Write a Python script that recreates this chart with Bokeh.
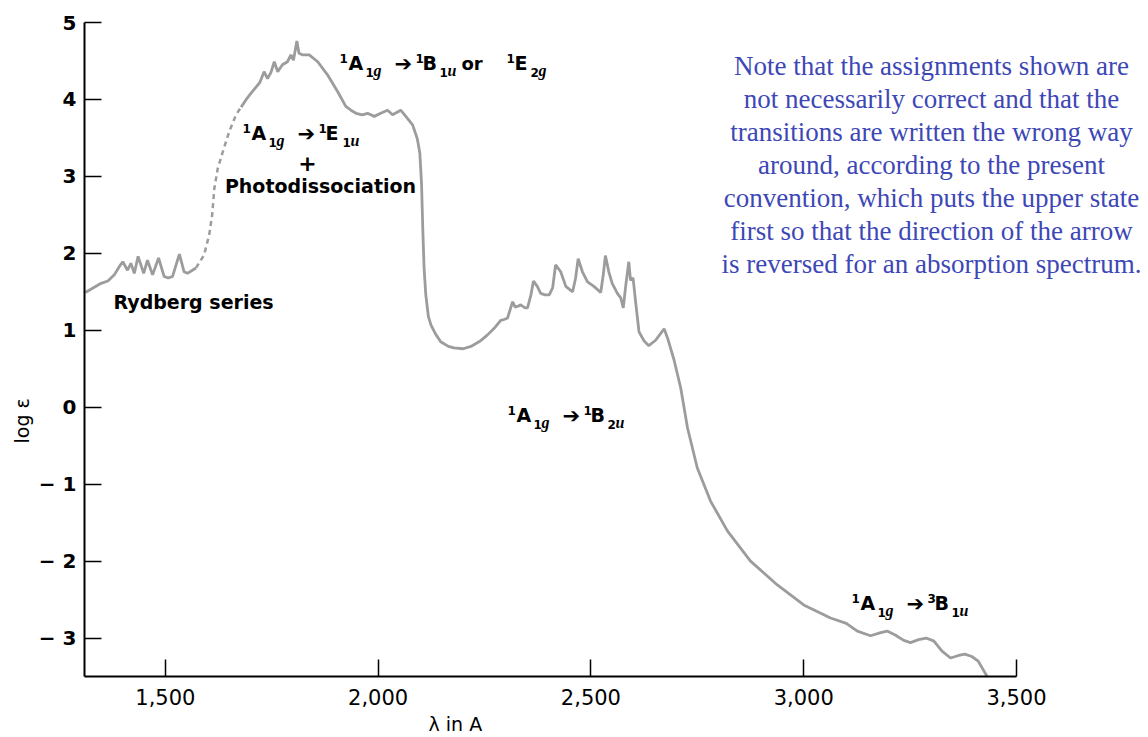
import math
from bokeh.plotting import figure
from bokeh.models import Range1d, FixedTicker, NumeralTickFormatter, Label, Title
from bokeh.embed import file_html
from bokeh.resources import INLINE

# ---------------- data ----------------
# Rydberg series region (solid)
rydberg_wavelength = [1312, 1349, 1365, 1380, 1392, 1400, 1411, 1419, 1427, 1436, 1449,
                      1458, 1470, 1484, 1497, 1507, 1517, 1533, 1544, 1552, 1572]
rydberg_log_eps = [1.49, 1.61, 1.64, 1.72, 1.83, 1.89, 1.78, 1.87, 1.74, 1.96, 1.74,
                   1.91, 1.72, 1.94, 1.70, 1.68, 1.70, 1.99, 1.76, 1.74, 1.81]

# uncertain (dashed) rise
dashed_wavelength = [1572, 1591, 1603, 1610, 1615, 1623, 1635, 1650, 1666, 1678]
dashed_log_eps = [1.81, 1.98, 2.24, 2.50, 2.84, 3.10, 3.32, 3.58, 3.80, 3.90]

# main band and tail (solid)
band_wavelength = [1678, 1690, 1701, 1713, 1722, 1732, 1740, 1748, 1756, 1764, 1775,
                   1787, 1795, 1801, 1809, 1814, 1822, 1838, 1858, 1881, 1905, 1924,
                   1936, 1948, 1963, 1975, 1991, 2006, 2022, 2034, 2053, 2065, 2081,
                   2092, 2098, 2102, 2105, 2108, 2112, 2118, 2124, 2135, 2147, 2165,
                   2178, 2200, 2218, 2240, 2257, 2275, 2288, 2296, 2304, 2316, 2322,
                   2327, 2335, 2345, 2351, 2359, 2365, 2374, 2382, 2392, 2402, 2410,
                   2417, 2429, 2441, 2457, 2464, 2470, 2480, 2492, 2507, 2523, 2529,
                   2534, 2542, 2550, 2562, 2570, 2576, 2582, 2589, 2593, 2599, 2605,
                   2613, 2625, 2636, 2652, 2664, 2672, 2680, 2695, 2711, 2727, 2750,
                   2781, 2821, 2875, 2938, 3000, 3063, 3100, 3126, 3157, 3181, 3196,
                   3215, 3235, 3251, 3270, 3288, 3306, 3325, 3345, 3362, 3378, 3395,
                   3410, 3431]
band_log_eps = [3.90, 4.00, 4.08, 4.16, 4.22, 4.36, 4.27, 4.35, 4.49, 4.36, 4.45,
                4.49, 4.58, 4.51, 4.76, 4.60, 4.58, 4.58, 4.49, 4.32, 4.10, 3.91,
                3.86, 3.82, 3.80, 3.82, 3.78, 3.82, 3.86, 3.80, 3.86, 3.78, 3.67,
                3.49, 3.30, 2.90, 2.30, 1.80, 1.46, 1.18, 1.07, 0.95, 0.85, 0.79,
                0.77, 0.76, 0.79, 0.86, 0.94, 1.04, 1.13, 1.14, 1.16, 1.37, 1.30,
                1.31, 1.33, 1.29, 1.29, 1.46, 1.64, 1.57, 1.48, 1.46, 1.46, 1.55,
                1.85, 1.76, 1.57, 1.50, 1.68, 1.93, 1.76, 1.63, 1.57, 1.49, 1.72,
                1.97, 1.76, 1.61, 1.48, 1.42, 1.29, 1.59, 1.89, 1.65, 1.68, 1.37,
                0.98, 0.86, 0.80, 0.87, 0.96, 1.02, 0.90, 0.62, 0.25, -0.27, -0.79,
                -1.22, -1.61, -2.00, -2.31, -2.57, -2.74, -2.81, -2.91, -2.97, -2.93, -2.91,
                -2.96, -3.03, -3.06, -3.02, -3.00, -3.04, -3.17, -3.26, -3.23, -3.21, -3.24,
                -3.30, -3.50]

x_ticks = [1500, 2000, 2500, 3000, 3500]
y_ticks = [-3, -2, -1, 0, 1, 2, 3, 4, 5]
y_tick_labels = {-3: "\u2212 3", -2: "\u2212 2", -1: "\u2212 1"}

note_lines = [
    "Note that the assignments shown are",
    "not necessarily correct and that the",
    "transitions are written the wrong way",
    "around, according to the present",
    "convention, which puts the upper state",
    "first so that the direction of the arrow",
    "is reversed for an absorption spectrum.",
]

# ---------------- figure ----------------
X0, XAX, Y0, Y1 = 1310, 3500, -3.5, 5
LEFT, TOP = 84, 22
SX = 932 / (XAX - X0)          # px per Angstrom
FH = 654
SY = FH / (Y1 - Y0)            # px per log unit
FW = 1058                      # frame reaches the right edge (room for the note)
X1 = X0 + FW / SX

p = figure(frame_width=FW, frame_height=FH,
           x_range=Range1d(X0, X1), y_range=Range1d(Y0, Y1),
           output_backend="svg", toolbar_location=None,
           min_border_left=LEFT, min_border_right=4,
           min_border_top=TOP, min_border_bottom=61)
p.outline_line_color = None
p.grid.visible = False
p.background_fill_color = "white"
p.border_fill_color = "white"

xa = p.xaxis[0]
xa.bounds = (X0, XAX)
xa.ticker = FixedTicker(ticks=x_ticks)
xa.formatter = NumeralTickFormatter(format="0,0")
xa.major_tick_in = 17
xa.major_tick_out = 0
xa.minor_tick_in = 0
xa.minor_tick_out = 0
xa.axis_line_width = 2
xa.major_tick_line_width = 1.5
xa.major_label_text_font = "DejaVu Sans"
xa.major_label_text_font_size = "21px"
xa.major_label_text_color = "black"
xa.major_label_standoff = 12

ya = p.yaxis[0]
ya.ticker = FixedTicker(ticks=y_ticks)
ya.major_label_overrides = y_tick_labels
ya.major_tick_in = 17
ya.major_tick_out = 0
ya.minor_tick_in = 0
ya.minor_tick_out = 0
ya.axis_line_width = 2
ya.major_tick_line_width = 1.5
ya.major_label_text_font = "DejaVu Sans"
ya.major_label_text_font_style = "bold"
ya.major_label_text_font_size = "20px"
ya.major_label_text_color = "black"
ya.major_label_standoff = 8

# axis titles as side-panel titles (not clipped by the frame)
p.add_layout(Title(text="\u03bb in A", align="left", offset=344, standoff=6,
                   text_font="DejaVu Sans", text_font_style="normal",
                   text_font_size="19px", text_color="black"), "below")
p.add_layout(Title(text="log \u03b5", align="left", offset=233, standoff=6,
                   text_font="DejaVu Sans", text_font_style="normal",
                   text_font_size="19px", text_color="black"), "left")

CURVE = "#9c9c9c"
p.line(rydberg_wavelength, rydberg_log_eps, line_color=CURVE, line_width=2.8)
p.line(dashed_wavelength, dashed_log_eps, line_color=CURVE, line_width=2.5, line_dash="5 4")
p.line(band_wavelength, band_log_eps, line_color=CURVE, line_width=2.8)


# ---------------- text ----------------
def at(px, py):
    """page pixel -> data coordinates"""
    return X0 + (px - LEFT) / SX, Y1 - (py - TOP) / SY


def txt(text, px, py, size, font="DejaVu Sans", style="bold", color="black",
        align="left", lift=None):
    # py is the wanted baseline; the label is anchored a little higher
    if lift is None:
        lift = 0.37 * size
    x, y = at(px, py - lift)
    p.add_layout(Label(x=x, y=y, text=text, text_font=font, text_font_style=style,
                       text_font_size=f"{size}px", text_color=color,
                       text_align=align, text_baseline="alphabetic"))


def pieces(items):
    for kind, s, px, py in items:
        if kind == "main":
            txt(s, px, py, 19)
        elif kind == "num":
            txt(s, px, py, 12)
        elif kind == "ital":
            txt(s, px, py, 16, font="Liberation Serif", style="bold italic")
        elif kind == "arrow":
            txt(s, px, py, 21)


def transition(upper, upper_sub, x0, base):
    return [
        ("num", "1", x0 - 9, base - 8), ("main", "A", x0, base),
        ("num", "1", x0 + 17, base + 6), ("ital", "g", x0 + 25, base + 6),
        ("arrow", "\u2794", x0 + 46, base + 1),
        ("num", upper[0], x0 + 67, base - 8), ("main", upper[1], x0 + 74, base),
        ("num", upper_sub[0], x0 + 91, base + 6), ("ital", upper_sub[1], x0 + 99, base + 6),
    ]


# 1A1g -> 1B1u or 1E2g
pieces(transition("1B", "1u", 348, 70))
txt("or", 461, 70, 18)
pieces([("num", "1", 506, 62), ("main", "E", 514, 70),
        ("num", "2", 530, 76), ("ital", "g", 538, 76)])

# 1A1g -> 1E1u + Photodissociation
pieces(transition("1E", "1u", 251, 140))
txt("+", 307, 171, 22, align="center")
txt("Photodissociation", 320, 193, 19, align="center")

# Rydberg series
txt("Rydberg series", 113, 309, 19)

# 1A1g -> 1B2u
pieces(transition("1B", "2u", 516, 422))

# 1A1g -> 3B1u
pieces(transition("3B", "1u", 860, 610))

# note
for i, line in enumerate(note_lines):
    txt(line, 931, 69.5 + i * 32.9, 27, font="Liberation Serif", style="normal",
        color="#3d47b6", align="center", lift=3.6)

open("out.html", "w").write(file_html(p, INLINE))
